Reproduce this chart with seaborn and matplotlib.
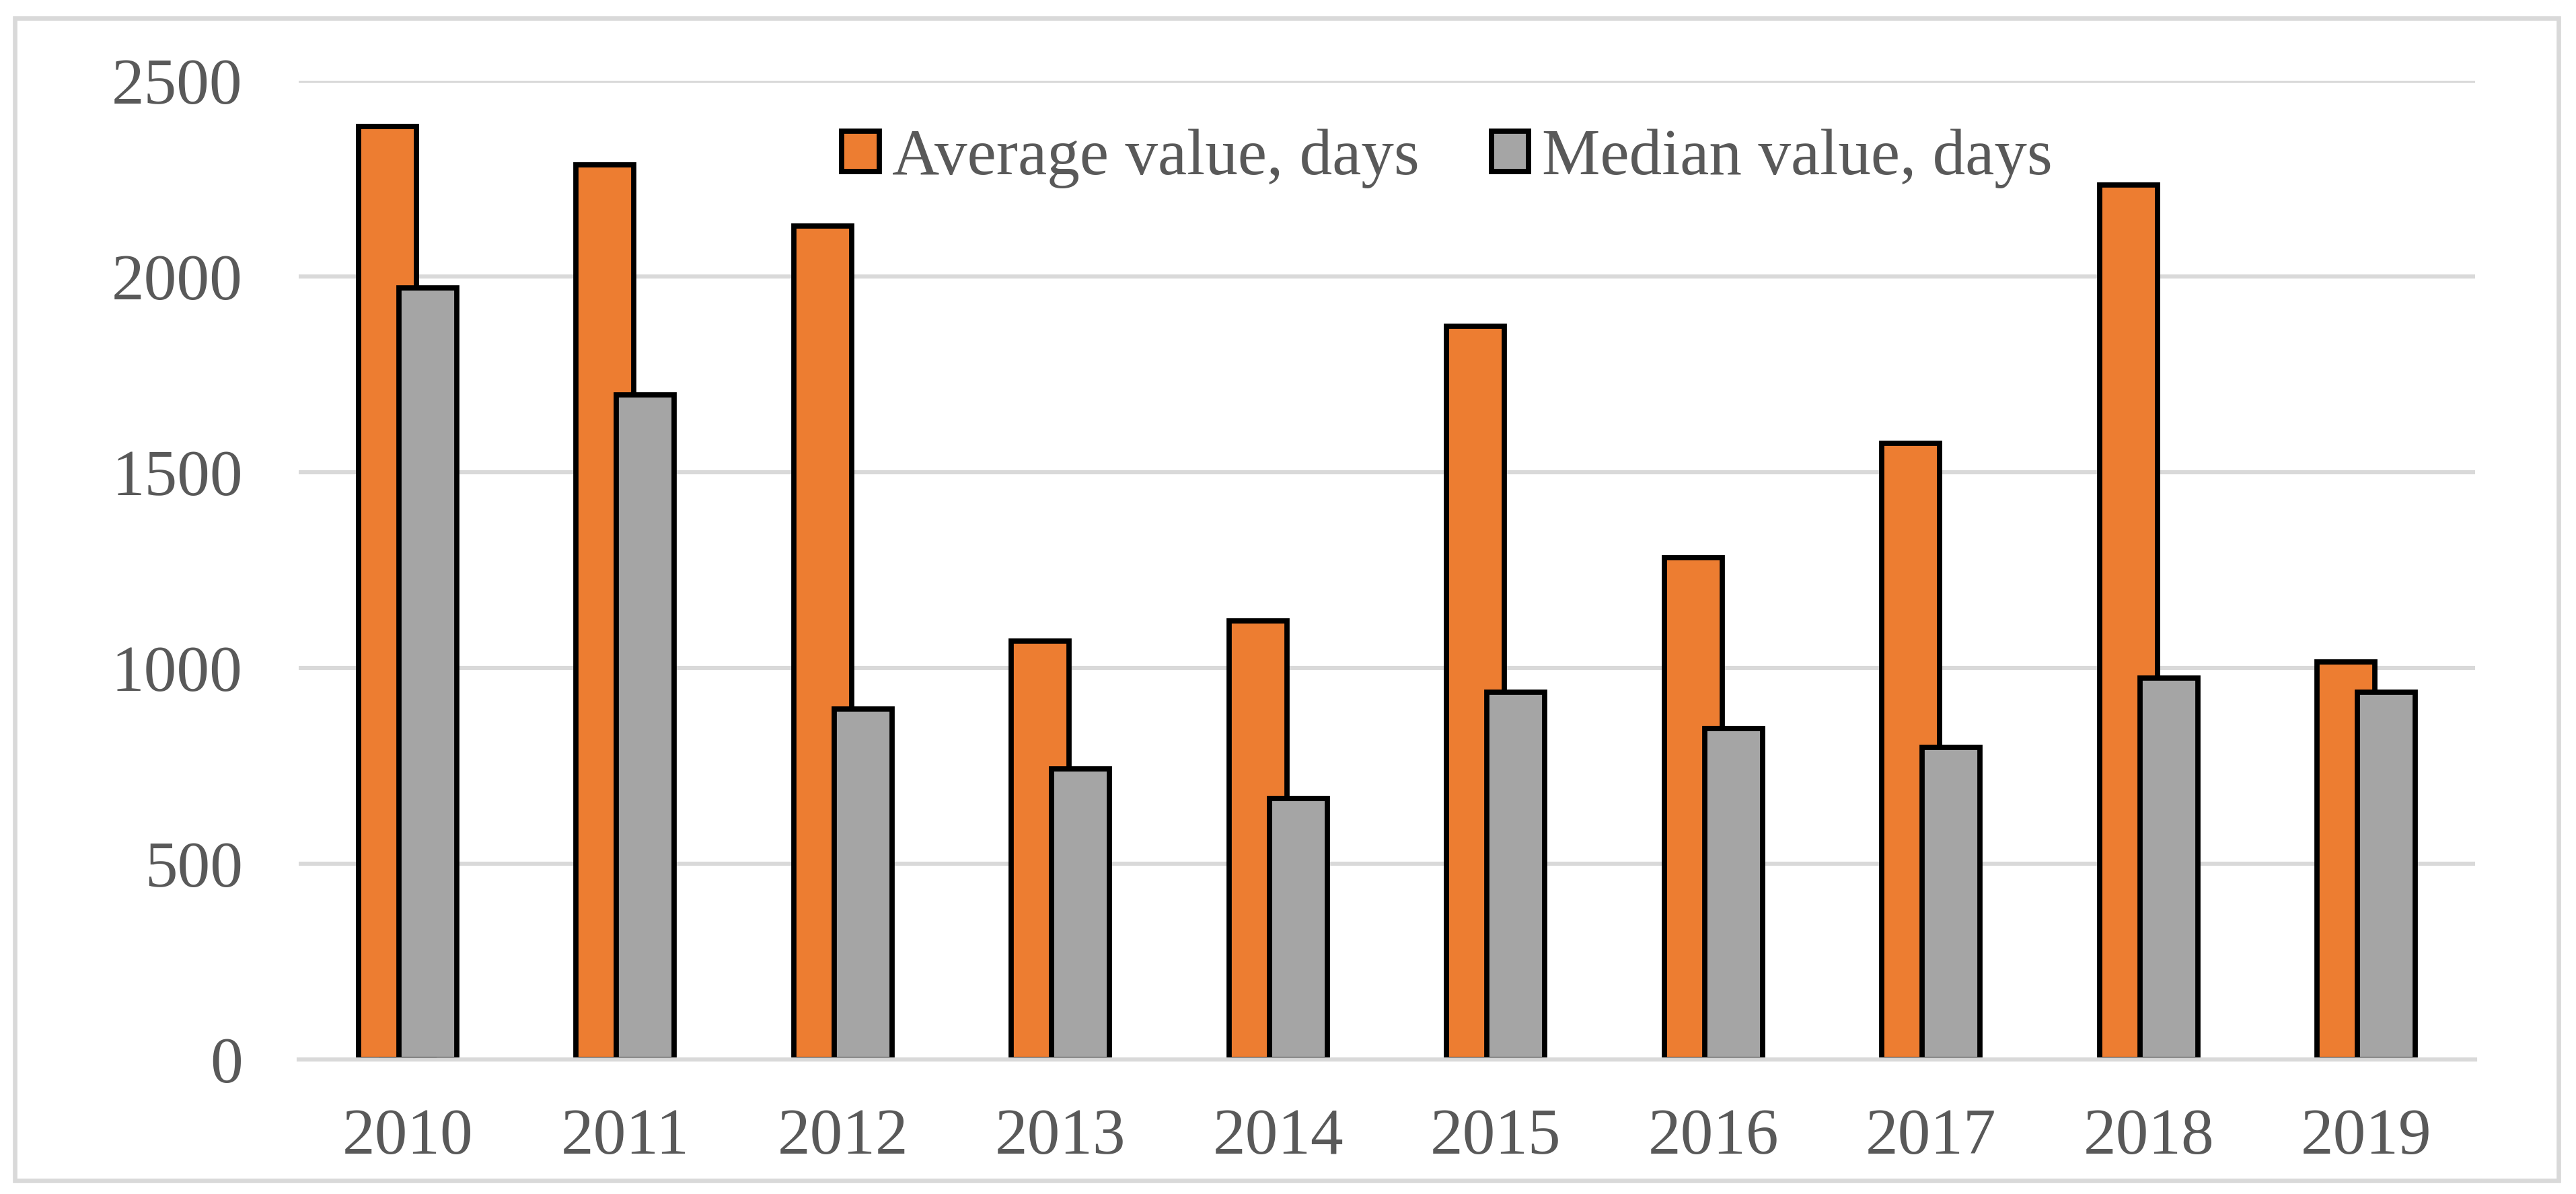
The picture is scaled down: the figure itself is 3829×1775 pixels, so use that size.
import numpy as np
import pandas as pd
import matplotlib
matplotlib.use("Agg")
import matplotlib.pyplot as plt
import seaborn as sns
from matplotlib.patches import Rectangle

# values
years = ["2010", "2011", "2012", "2013", "2014", "2015", "2016", "2017", "2018", "2019"]
avg_days = [2384, 2286, 2129, 1068, 1120, 1873, 1282, 1574, 2233, 1015]
median_days = [1970, 1697, 896, 742, 666, 938, 845, 797, 975, 938]
series_names = ["Average value, days", "Median value, days"]
series_colors = ["#ED7D31", "#A5A5A5"]
y_ticks = [0, 500, 1000, 1500, 2000, 2500]

df = pd.DataFrame({
    "year": years * 2,
    "days": avg_days + median_days,
    "series": [series_names[0]] * len(years) + [series_names[1]] * len(years),
})

sns.set_style("white")
plt.rcParams["font.family"] = ["Liberation Serif", "DejaVu Serif"]
TEXT = "#595959"
GRID = "#D9D9D9"

fig = plt.figure(figsize=(19.15, 8.875), dpi=200)
ax = fig.add_axes([444 / 3830, 200 / 1775, (3679 - 444) / 3830, (1575 - 120) / 1775])

ax.set_axisbelow(True)
ax.yaxis.grid(True, color=GRID, linewidth=2.2)

sns.barplot(data=df, x="year", y="days", hue="series", hue_order=series_names,
            palette=series_colors, width=0.372, dodge=True, saturation=1,
            edgecolor="black", linewidth=2.8, ax=ax)

# widen the dodged bars so the median bar overlaps the average bar (Excel style)
bar_w = 0.266
for p in ax.patches:
    c = p.get_x() + p.get_width() / 2
    p.set_width(bar_w)
    p.set_x(c - bar_w / 2)

ax.set_ylim(0, 2500)
ax.set_xlim(-0.5, len(years) - 0.5)
ax.set_yticks(y_ticks)
ax.set_xlabel("")
ax.set_ylabel("")
for s in ["left", "right", "top"]:
    ax.spines[s].set_visible(False)
ax.spines["bottom"].set_color(GRID)
ax.spines["bottom"].set_linewidth(2.2)
ax.tick_params(axis="both", length=0, labelsize=35, labelcolor=TEXT)
ax.tick_params(axis="y", pad=30)
ax.tick_params(axis="x", pad=26)

handles, labels = ax.get_legend_handles_labels()
leg = ax.legend(handles, labels, loc="center", bbox_to_anchor=(2151 / 3830, 1 - 236 / 1775),
                bbox_transform=fig.transFigure, ncol=2, frameon=False, fontsize=35,
                handlelength=0.57, handleheight=0.57, handletextpad=0.2,
                columnspacing=1.1, labelcolor=TEXT)
for h in leg.legend_handles:
    h.set_edgecolor("black")
    h.set_linewidth(2.8)

fig.patches.append(Rectangle((22 / 3830, 20 / 1775), (3803 - 22) / 3830, (1755 - 27) / 1775,
                             transform=fig.transFigure, fill=False, edgecolor=GRID,
                             linewidth=2.4, zorder=0))

fig.savefig("out.png", dpi=200, facecolor="white")
